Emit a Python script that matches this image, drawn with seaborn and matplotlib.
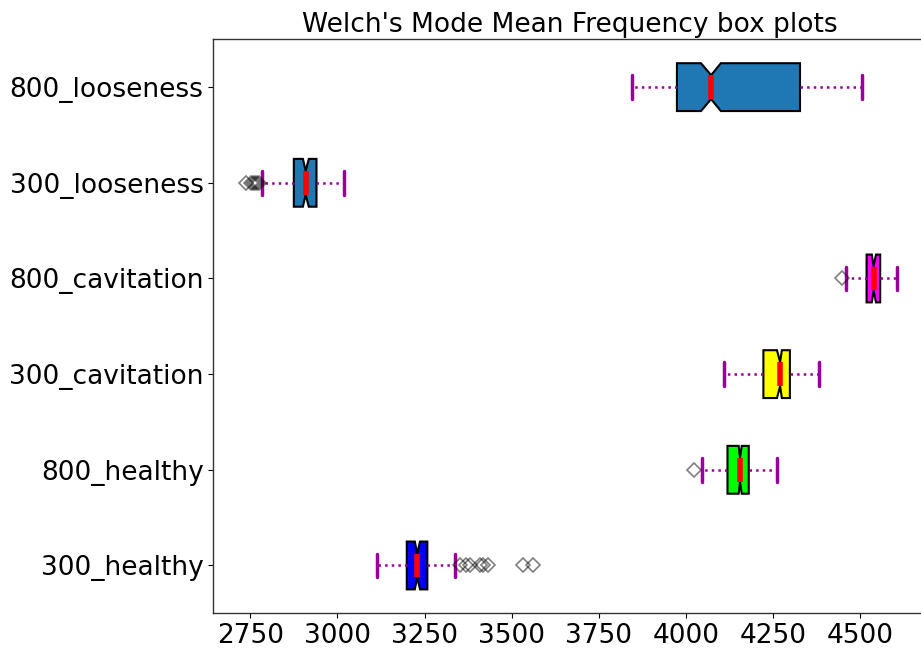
import matplotlib
matplotlib.use("Agg")
import matplotlib.pyplot as plt
import seaborn as sns

# Per-condition box statistics (Hz), bottom row first
labels = ["300_healthy", "800_healthy", "300_cavitation",
          "800_cavitation", "300_looseness", "800_looseness"]
whisker_lo = [3114, 4045, 4109, 4459, 2784, 3844]
q1 = [3199, 4119, 4222, 4518, 2875, 3974]
median = [3229, 4155, 4270, 4538, 2909, 4072]
q3 = [3258, 4180, 4298, 4557, 2940, 4327]
whisker_hi = [3338, 4261, 4382, 4604, 3020, 4504]
notch_lo = [3222, 4151, 4261, 4533, 2901, 4043]
notch_hi = [3237, 4160, 4275, 4545, 2918, 4100]
outliers = [
    [3352, 3369, 3381, 3409, 3419, 3433, 3533, 3562],
    [4023],
    [],
    [4448],
    [2738, 2752, 2758, 2763, 2770, 2776],
    [],
]
box_colors = ["#0000ff", "#00ff00", "#ffff00", "#ff00ff", "#1f77b4", "#1f77b4"]

sns.set_style("ticks")
plt.rcParams["font.family"] = ["DejaVu Sans"]
plt.rcParams["text.color"] = "black"

fig = plt.figure(figsize=(9.21, 6.51), dpi=100)
ax_w = 713.4 / 921
ax = fig.add_axes([213.3 / 921, 37.7 / 651, ax_w, 574 / 651])

stats = []
for i, lab in enumerate(labels):
    stats.append(dict(label=lab, whislo=whisker_lo[i], q1=q1[i], med=median[i],
                      q3=q3[i], whishi=whisker_hi[i], cilo=notch_lo[i],
                      cihi=notch_hi[i], fliers=outliers[i]))

art = ax.bxp(stats, positions=range(1, 7), widths=0.5, vert=False,
             shownotches=True, patch_artist=True,
             boxprops=dict(edgecolor="black", linewidth=1.5),
             medianprops=dict(color="red", linewidth=4),
             whiskerprops=dict(color="#990099", linestyle=":", linewidth=1.8),
             capprops=dict(color="#990099", linewidth=2.5),
             flierprops=dict(marker="D", markerfacecolor="none",
                             markeredgecolor="black", alpha=0.5,
                             markersize=7, markeredgewidth=1.2))
for patch, c in zip(art["boxes"], box_colors):
    patch.set_facecolor(c)

ax.set_xlim(2644, 2644 + 713.4 / 0.3486)
ax.set_ylim(0.5, 6.5)
ax.set_xticks([2750, 3000, 3250, 3500, 3750, 4000, 4250, 4500])
ax.set_yticks(range(1, 7))
ax.set_yticklabels(labels)
ax.tick_params(axis="both", labelsize=19, length=3.5, width=0.8,
               colors="black", labelcolor="black")
for s in ax.spines.values():
    s.set_color("#333333")
    s.set_linewidth(1.0)
ax.set_title("Welch's Mode Mean Frequency box plots", fontsize=19,
             pad=5, color="black")

fig.savefig("out.png", dpi=100)
